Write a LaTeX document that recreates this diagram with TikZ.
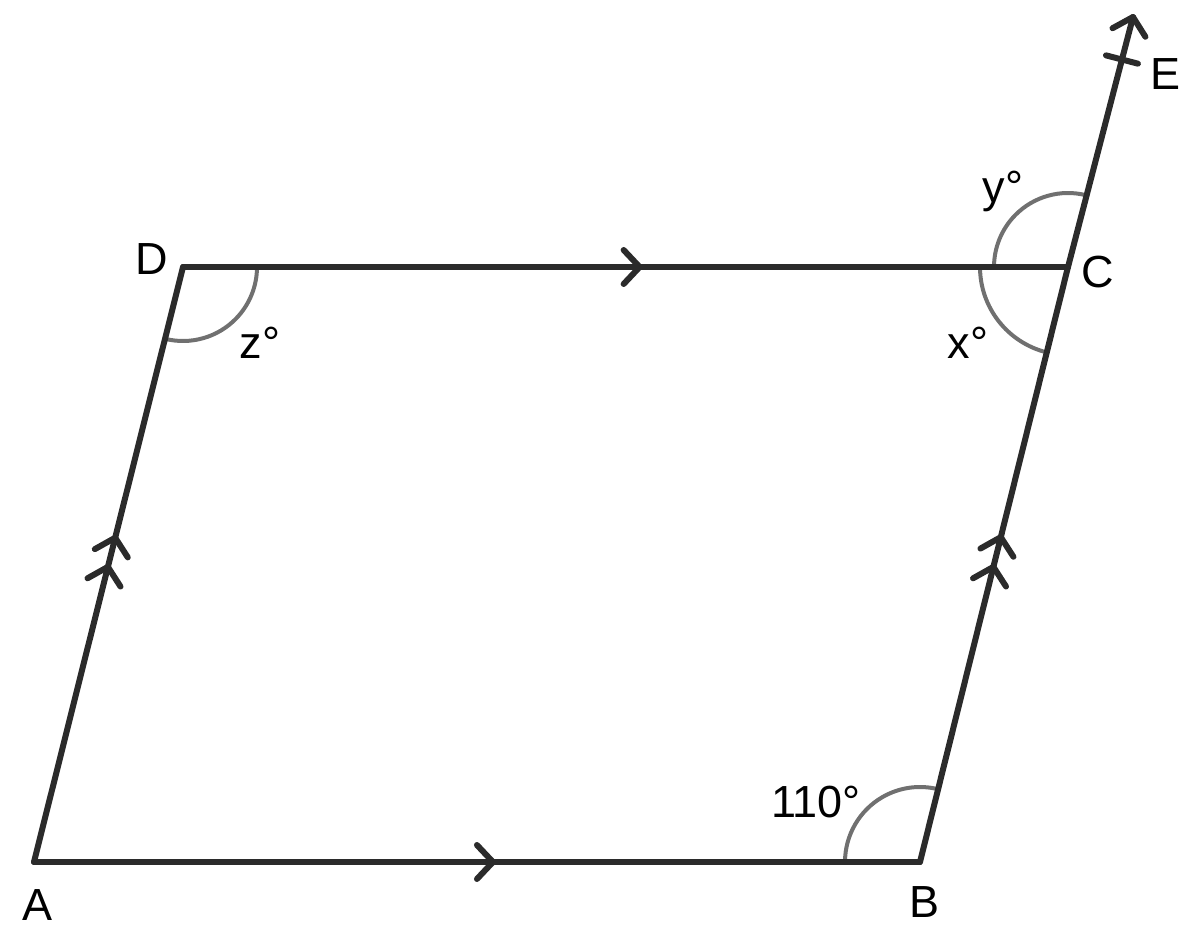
\documentclass[tikz,border=0pt]{standalone}
\usepackage{fontspec}
\setmainfont{Liberation Sans}
\usetikzlibrary{decorations.markings}
\definecolor{ln}{HTML}{2B2B2B}
\definecolor{arcc}{HTML}{707070}
\begin{document}
\begin{tikzpicture}[x=0.5pt,y=0.5pt,
  seg/.style={draw=ln,line width=3pt,line cap=round,line join=round},
  anglearc/.style={draw=arcc,line width=2pt},
  lbl/.style={inner sep=0pt,anchor=base,font=\fontsize{22.5}{26}\selectfont},
  onechev/.style={postaction={decorate,decoration={markings,mark=at position #1 with {\draw[ln,line width=3pt,line cap=round,line join=round] (-8pt,8.5pt) -- (0,0) -- (-8pt,-8.5pt);}}}},
  twochev/.style 2 args={postaction={decorate,decoration={markings,
     mark=at position #1 with {\draw[ln,line width=3pt,line cap=round,line join=round] (-8pt,8.5pt) -- (0,0) -- (-8pt,-8.5pt);},
     mark=at position #2 with {\draw[ln,line width=3pt,line cap=round,line join=round] (-8pt,8.5pt) -- (0,0) -- (-8pt,-8.5pt);}}}},
  tipchev/.style={postaction={decorate,decoration={markings,
     mark=at position #1 with {\draw[ln,line width=3pt,line cap=round] (0,-8.25pt) -- (0,8.25pt);},
     mark=at position 1 with {\draw[ln,line width=3pt,line cap=round,line join=round] (-8pt,8.5pt) -- (0,0) -- (-8pt,-8.5pt);}}}}
]
\useasboundingbox (0,0) rectangle (1200,939);
\coordinate (A) at (34,77);
\coordinate (B) at (920,77);
\coordinate (C) at (1068,672);
\coordinate (D) at (183,672);
\coordinate (E) at (1133,922);
% angle arcs
\draw[anglearc] ([shift={(180:37.5pt)}]B) arc[start angle=180,end angle=76,radius=37.5pt];
\draw[anglearc] ([shift={(-104:37pt)}]D) arc[start angle=-104,end angle=0,radius=37pt];
\draw[anglearc] ([shift={(180:44pt)}]C) arc[start angle=180,end angle=256,radius=44pt];
\draw[anglearc] ([shift={(75.4:37pt)}]C) arc[start angle=75.4,end angle=180,radius=37pt];
% sides
\draw[seg,onechev=0.518] (A) -- (B);
\draw[seg,onechev=0.516] (D) -- (C);
\draw[seg,twochev={0.496}{0.545}] (A) -- (D);
\draw[seg,twochev={0.496}{0.546}] (B) -- (C);
\draw[seg,tipchev=0.83] (C) -- (E);
% labels
\node[lbl] (lA) at (38,19) {A};
\node[lbl] (lB) at (924,22) {B};
\node[lbl] (lC) at (1098,651) {C};
\node[lbl] (lD) at (152,664) {D};
\node[lbl] (lE) at (1165,849) {E};
\node[lbl] (lz) at (260,581) {z°};
\node[lbl] (lx) at (968,581) {x°};
\node[lbl] (ly) at (1003,736) {y°};
\node[lbl] (l110) at (816,122) {110°};
\end{tikzpicture}
\end{document}
